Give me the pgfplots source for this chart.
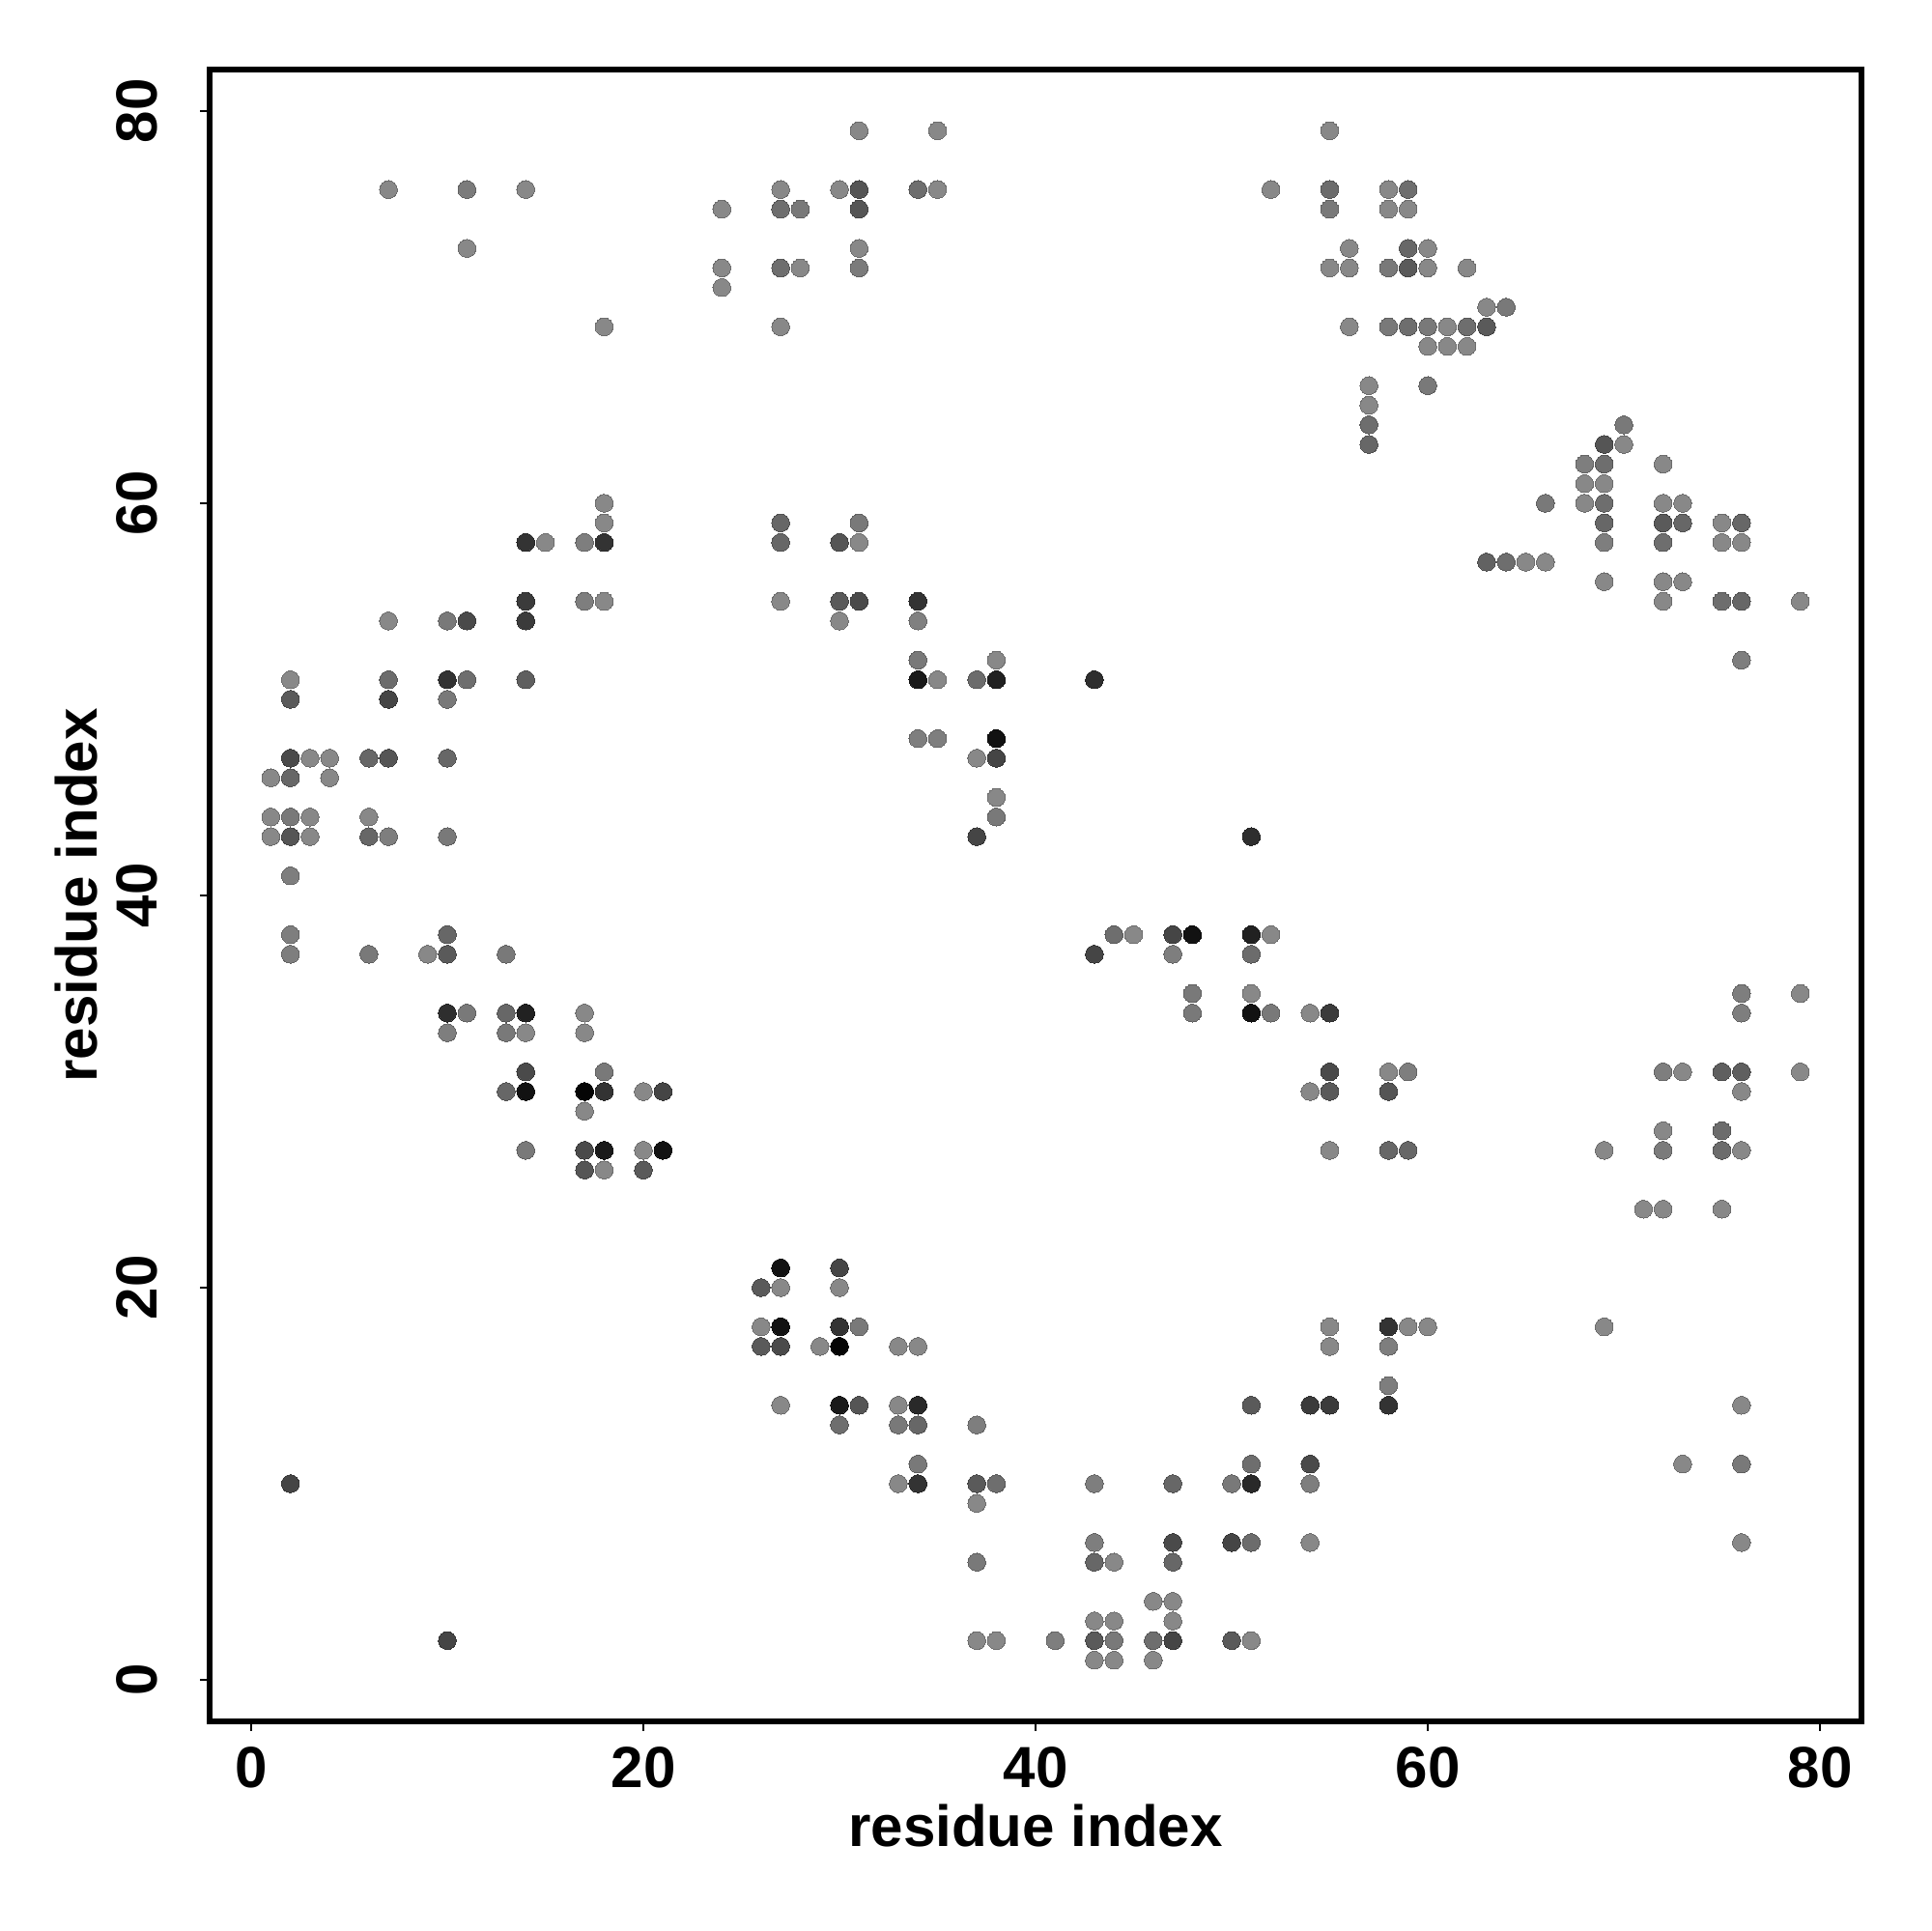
\documentclass[border=0pt]{standalone}
\usepackage{pgfplots}
\pgfplotsset{compat=1.18}
\usepackage{pgfplotstable}
\usepackage{fontspec}
\setmainfont{Liberation Sans}
\usetikzlibrary{calc}
\pgfplotstableread{
x y g
31 79 53
35 79 53
55 79 53
7 76 53
11 76 48
14 76 53
27 76 53
30 76 53
31 76 33
34 76 43
35 76 53
52 76 53
55 76 42
58 76 53
59 76 43
24 75 53
27 75 43
28 75 47
31 75 33
55 75 47
58 75 53
59 75 53
11 73 53
31 73 53
56 73 53
59 73 40
60 73 53
24 72 53
27 72 43
28 72 53
31 72 48
55 72 53
56 72 53
58 72 47
59 72 35
60 72 53
62 72 53
24 71 53
63 70 53
64 70 47
18 69 53
27 69 53
56 69 53
58 69 47
59 69 43
60 69 47
61 69 53
62 69 43
63 69 35
60 68 53
61 68 53
62 68 53
57 66 53
60 66 47
57 65 53
57 64 43
70 64 47
57 63 40
69 63 33
70 63 53
68 62 49
69 62 43
72 62 53
68 61 53
69 61 53
18 60 53
66 60 47
68 60 53
69 60 43
72 60 53
73 60 53
18 59 53
27 59 40
31 59 47
69 59 40
72 59 35
73 59 40
75 59 53
76 59 40
14 58 20
15 58 53
17 58 49
18 58 20
27 58 40
30 58 33
31 58 53
69 58 49
72 58 43
75 58 53
76 58 53
63 57 38
64 57 43
65 57 53
66 57 53
69 56 53
72 56 53
73 56 53
14 55 23
17 55 49
18 55 53
27 55 53
30 55 35
31 55 29
34 55 20
72 55 53
75 55 43
76 55 40
79 55 53
7 54 53
10 54 47
11 54 29
14 54 23
30 54 53
34 54 50
34 52 47
38 52 53
76 52 49
2 51 53
7 51 42
10 51 20
11 51 43
14 51 37
34 51 10
35 51 53
37 51 42
38 51 13
43 51 18
2 50 35
7 50 27
10 50 47
34 48 49
35 48 49
38 48 7
2 47 29
3 47 53
4 47 53
6 47 40
7 47 33
10 47 40
37 47 53
38 47 27
1 46 53
2 46 40
4 46 53
38 45 53
1 44 53
2 44 47
3 44 53
6 44 53
38 44 47
1 43 53
2 43 33
3 43 53
6 43 40
7 43 49
10 43 47
37 43 27
51 43 18
2 41 49
2 38 49
10 38 40
44 38 43
45 38 53
47 38 27
48 38 7
51 38 13
52 38 53
2 37 49
6 37 47
9 37 53
10 37 35
13 37 47
43 37 27
47 37 49
51 37 42
48 35 47
51 35 53
76 35 49
79 35 53
10 34 18
11 34 47
13 34 40
14 34 13
17 34 53
48 34 47
51 34 7
52 34 47
54 34 53
55 34 23
76 34 49
10 33 49
13 33 47
14 33 53
17 33 53
14 31 29
18 31 47
55 31 29
58 31 53
59 31 49
72 31 49
73 31 53
75 31 37
76 31 37
79 31 53
13 30 40
14 30 7
17 30 2
18 30 20
20 30 53
21 30 27
54 30 53
55 30 35
58 30 33
76 30 53
17 29 53
72 28 53
75 28 42
14 27 47
17 27 29
18 27 10
20 27 53
21 27 7
55 27 53
58 27 40
59 27 40
69 27 53
72 27 48
75 27 42
76 27 53
17 26 33
18 26 53
20 26 35
71 24 53
72 24 53
75 24 53
27 21 7
30 21 27
26 20 35
27 20 53
30 20 53
26 18 53
27 18 7
30 18 20
31 18 47
55 18 53
58 18 20
59 18 53
60 18 53
69 18 53
26 17 35
27 17 29
29 17 53
30 17 2
33 17 53
34 17 53
55 17 53
58 17 49
58 15 49
27 14 53
30 14 10
31 14 33
33 14 53
34 14 16
51 14 35
54 14 23
55 14 23
58 14 20
76 14 53
30 13 43
33 13 47
34 13 40
37 13 49
34 11 47
51 11 43
54 11 29
73 11 53
76 11 47
2 10 27
33 10 53
34 10 20
37 10 35
38 10 43
43 10 49
47 10 40
50 10 47
51 10 16
54 10 49
37 9 53
43 7 49
47 7 29
50 7 27
51 7 42
54 7 53
76 7 53
37 6 47
43 6 40
44 6 53
47 6 40
46 4 53
47 4 53
43 3 53
44 3 53
47 3 53
10 2 27
37 2 53
38 2 53
41 2 49
43 2 35
44 2 47
46 2 43
47 2 27
50 2 35
51 2 53
43 1 53
44 1 53
46 1 53
}\contacts
\begin{document}
\begin{tikzpicture}
\begin{axis}[
  scale only axis, width=12cm, height=12cm,
  xmin=-2.12, xmax=82.12, ymin=-2.12, ymax=82.12,
  xtick={0,20,40,60,80}, ytick={0,20,40,60,80},
  tick align=outside, tick pos=left, major tick length=0.07cm,
  axis line style={line width=1.05pt},
  every tick/.style={black, line width=0.5pt},
  /pgf/number format/assume math mode=true,
  tick label style={font=\fontsize{12}{14}\selectfont\bfseries, inner sep=0pt},
  xticklabel style={anchor=base, yshift=-0.414cm},
  yticklabel style={xshift=-0.316cm, rotate=90, anchor=base},
  label style={font=\fontsize{12}{14}\selectfont\bfseries, inner sep=0pt},
  xlabel={residue index}, ylabel={residue index},
  xlabel style={at={(axis description cs:0.5,-0.076)}, anchor=base},
  ylabel style={at={(axis description cs:-0.0684,0.5)}, anchor=base},
  colormap={bw}{gray(0cm)=(0); gray(1cm)=(1)},
  point meta min=0, point meta max=100,
]
\addplot[scatter, only marks, mark=*, mark size=1.85pt, scatter src=explicit,
  mark options={line width=0pt}]
  table[x=x, y=y, meta=g] {\contacts};
\end{axis}
\pgfresetboundingbox
\path ($(current axis.south west)+(-1.523cm,-1.523cm)$) rectangle ($(current axis.north east)+(0.512cm,0.505cm)$);
\end{tikzpicture}
\end{document}
